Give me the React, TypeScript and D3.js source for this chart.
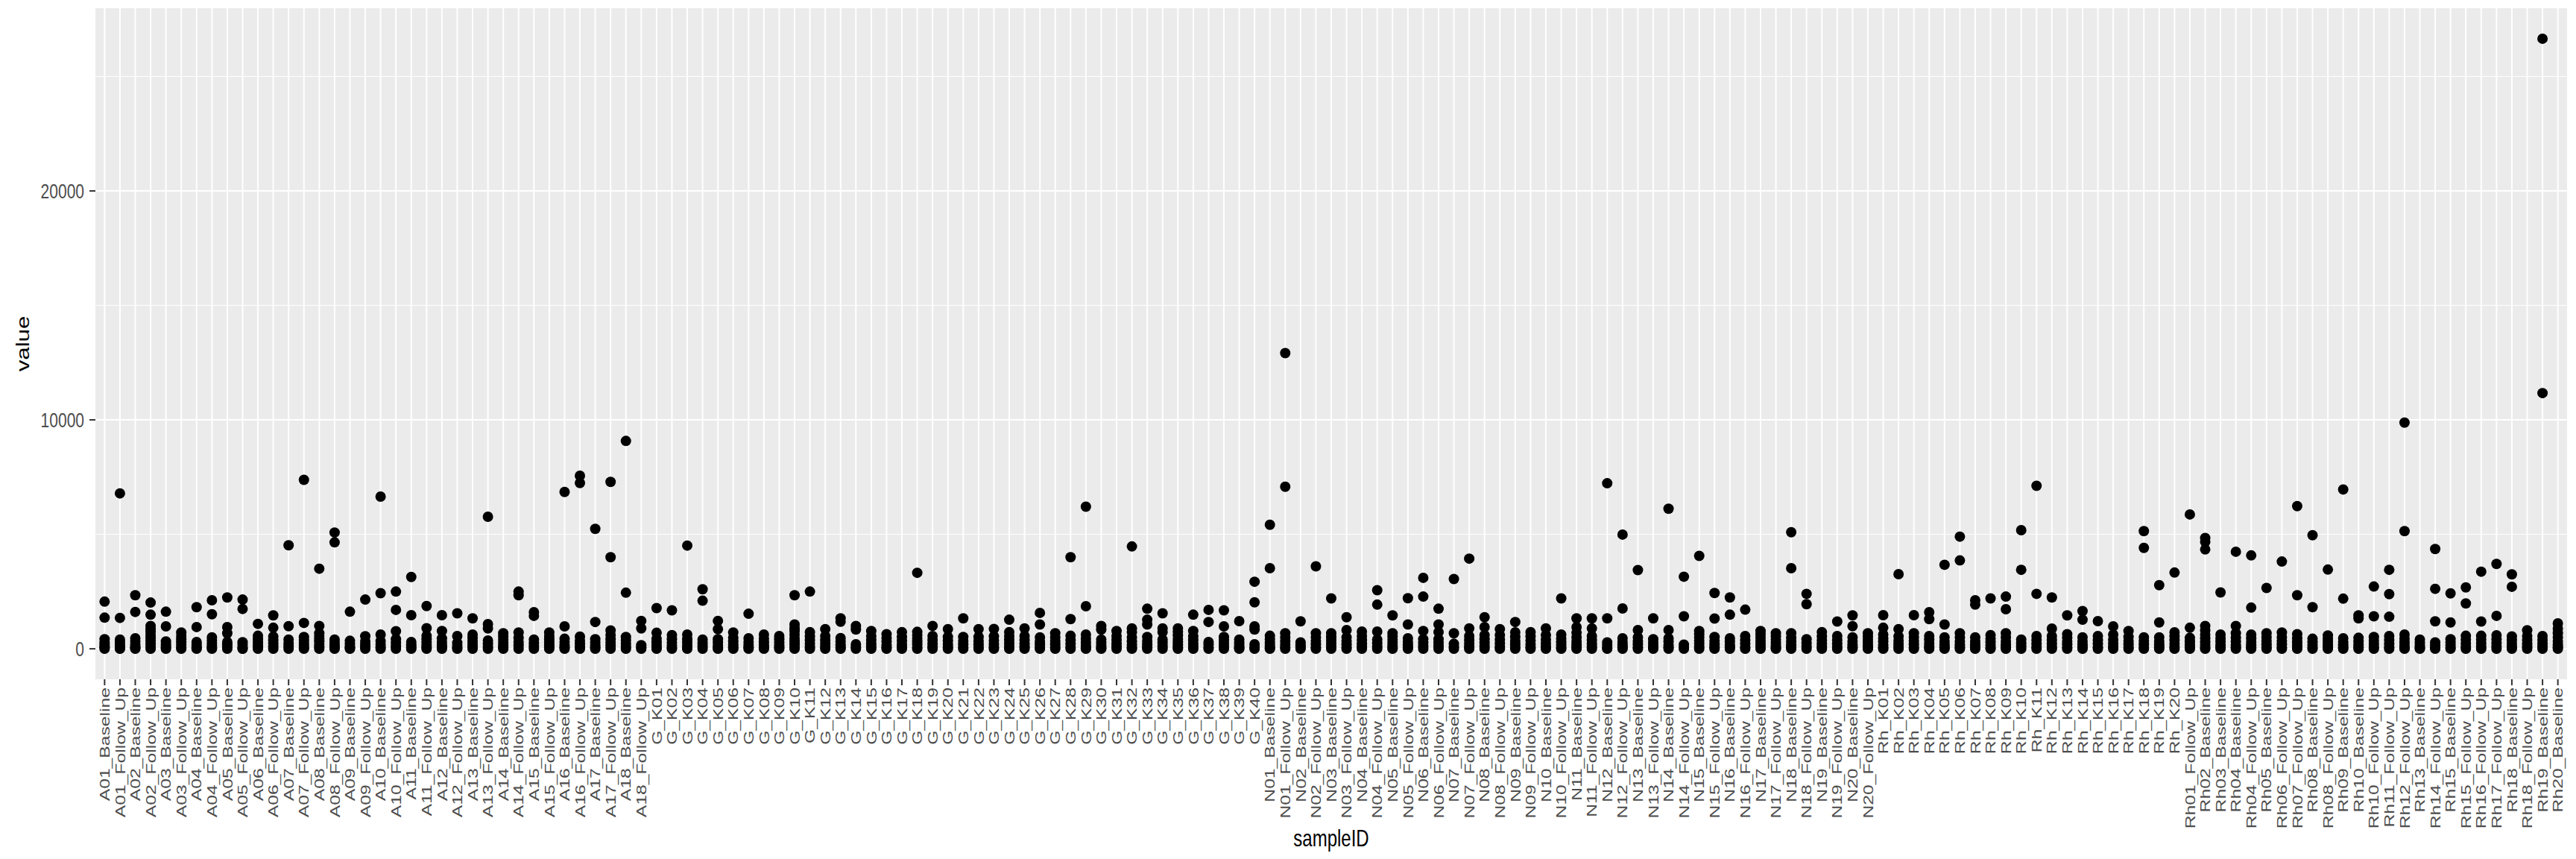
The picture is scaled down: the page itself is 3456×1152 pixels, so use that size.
import React from "react";
import * as d3 from "d3";

const aCategories = [
  "A01_Baseline","A01_Follow_Up","A02_Baseline","A02_Follow_Up","A03_Baseline","A03_Follow_Up",
  "A04_Baseline","A04_Follow_Up","A05_Baseline","A05_Follow_Up","A06_Baseline","A06_Follow_Up",
  "A07_Baseline","A07_Follow_Up","A08_Baseline","A08_Follow_Up","A09_Baseline","A09_Follow_Up",
  "A10_Baseline","A10_Follow_Up","A11_Baseline","A11_Follow_Up","A12_Baseline","A12_Follow_Up",
  "A13_Baseline","A13_Follow_Up","A14_Baseline","A14_Follow_Up","A15_Baseline","A15_Follow_Up",
  "A16_Baseline","A16_Follow_Up","A17_Baseline","A17_Follow_Up","A18_Baseline","A18_Follow_Up",
];
const aValues = [
  [2060,1360,420,300,190,110,50,0],
  [6790,1350,400,280,170,80,20,0],
  [2340,1610,460,330,200,100,30,0],
  [2020,1490,1000,870,740,600,480,350,220,100,0],
  [1620,980,320,210,120,40,0],
  [710,560,420,290,170,70,0],
  [1820,950,300,200,110,30,0],
  [2120,1510,500,370,240,120,40,0],
  [2240,950,680,300,190,90,0],
  [2150,1740,290,180,80,10,0],
  [1090,570,420,280,150,50,0],
  [1460,920,530,380,240,110,0],
  [4520,990,400,240,120,0],
  [7380,1130,520,380,250,130,40,0],
  [3500,1000,680,560,440,320,200,90,0],
  [5080,4650,400,270,150,50,0],
  [1620,350,220,110,30,0],
  [2150,550,330,200,90,0],
  [6650,2430,620,340,200,80,0],
  [2500,1700,770,420,260,120,0],
  [3140,1470,300,160,50,0],
  [1870,900,570,420,280,150,50,0],
  [1470,780,450,300,170,60,0],
  [1550,560,260,140,40,0],
  [1330,620,480,340,210,90,0],
  [5770,1080,890,360,220,100,0],
  [680,540,400,270,150,50,0],
  [2500,2340,710,480,300,150,0],
  [1600,1440,400,250,120,0],
  [710,560,420,290,160,60,0],
  [6850,980,440,300,170,60,0],
  [7560,7240,530,360,220,90,0],
  [5240,1170,420,280,150,50,0],
  [7290,4000,800,600,420,270,130,0],
  [9080,2450,520,370,230,100,0],
  [1220,890,160,60,0],
];

const gCategories = [
  "G_K01","G_K02","G_K03","G_K04","G_K05","G_K06","G_K07","G_K08","G_K09","G_K10",
  "G_K11","G_K12","G_K13","G_K14","G_K15","G_K16","G_K17","G_K18","G_K19","G_K20",
  "G_K21","G_K22","G_K23","G_K24","G_K25","G_K26","G_K27","G_K28","G_K29","G_K30",
  "G_K31","G_K32","G_K33","G_K34","G_K35","G_K36","G_K37","G_K38","G_K39","G_K40",
];
const gValues = [
  [1780,700,440,290,150,40,0],
  [1680,600,420,270,140,40,0],
  [4510,620,420,280,140,40,0],
  [2600,2100,400,250,120,0],
  [1220,860,420,280,140,30,0],
  [710,480,320,180,60,0],
  [1530,460,300,170,60,0],
  [620,440,290,150,50,0],
  [560,420,280,150,50,0],
  [2340,1060,900,780,620,460,320,190,70,0],
  [2500,730,540,380,230,100,0],
  [860,560,380,230,100,0],
  [1330,1180,470,310,160,50,0],
  [1000,840,200,80,0],
  [780,560,380,220,90,0],
  [640,470,310,170,60,0],
  [730,520,350,200,80,0],
  [3320,740,600,460,320,190,70,0],
  [1000,560,380,220,90,0],
  [860,520,350,200,80,0],
  [1330,520,340,190,70,0],
  [860,520,340,190,70,0],
  [870,540,360,210,80,0],
  [1270,730,560,390,240,100,0],
  [890,560,380,220,90,0],
  [1570,1060,500,330,190,70,0],
  [680,500,340,190,70,0],
  [4000,1300,570,380,220,80,0],
  [6210,1860,620,440,280,140,30,0],
  [1000,840,400,260,130,30,0],
  [780,560,380,220,90,0],
  [4470,890,730,500,320,170,50,0],
  [1750,1270,1060,520,340,190,60,0],
  [1550,890,730,400,260,120,0],
  [890,740,580,430,290,160,50,0],
  [1490,780,540,380,230,100,0],
  [1700,1170,300,180,70,0],
  [1680,980,520,380,240,110,0],
  [1210,400,260,130,30,0],
  [2930,2030,980,840,200,70,0],
];

const nCategories = [
  "N01_Baseline","N01_Follow_Up","N02_Baseline","N02_Follow_Up","N03_Baseline","N03_Follow_Up",
  "N04_Baseline","N04_Follow_Up","N05_Baseline","N05_Follow_Up","N06_Baseline","N06_Follow_Up",
  "N07_Baseline","N07_Follow_Up","N08_Baseline","N08_Follow_Up","N09_Baseline","N09_Follow_Up",
  "N10_Baseline","N10_Follow_Up","N11_Baseline","N11_Follow_Up","N12_Baseline","N12_Follow_Up",
  "N13_Baseline","N13_Follow_Up","N14_Baseline","N14_Follow_Up","N15_Baseline","N15_Follow_Up",
  "N16_Baseline","N16_Follow_Up","N17_Baseline","N17_Follow_Up","N18_Baseline","N18_Follow_Up",
  "N19_Baseline","N19_Follow_Up","N20_Baseline","N20_Follow_Up",
];
const nValues = [
  [5420,3520,570,410,260,130,30,0],
  [12920,7080,680,500,340,200,80,0],
  [1200,280,160,60,0],
  [3600,680,500,340,190,70,0],
  [2200,680,520,380,240,110,0],
  [1380,820,500,340,190,70,0],
  [750,560,380,220,90,0],
  [2560,1930,750,400,250,110,0],
  [1460,680,540,400,260,130,30,0],
  [2210,1060,460,300,160,50,0],
  [3100,2280,780,420,260,120,0],
  [1750,1060,730,420,260,120,0],
  [3050,680,220,90,0],
  [3940,890,560,380,230,90,0],
  [1380,950,600,420,260,120,0],
  [860,600,400,240,100,0],
  [1170,720,520,340,190,70,0],
  [730,540,360,200,80,0],
  [890,600,400,240,100,0],
  [2200,620,440,290,150,40,0],
  [1330,950,700,500,330,180,60,0],
  [1330,890,560,380,220,90,0],
  [7230,1330,280,150,40,0],
  [4990,1760,460,300,160,50,0],
  [3440,820,500,340,190,70,0],
  [1330,420,270,140,40,0],
  [6120,820,460,310,170,60,0],
  [3150,1420,180,70,0],
  [4060,780,640,500,360,230,100,0],
  [2440,1320,520,340,190,60,0],
  [2240,1490,460,310,170,60,0],
  [1710,560,380,220,80,0],
  [780,640,500,360,230,110,0],
  [680,540,400,260,130,30,0],
  [5090,3520,680,480,310,160,50,0],
  [2400,1950,420,250,110,0],
  [730,540,370,220,90,0],
  [1190,560,380,220,80,0],
  [1460,990,500,330,180,60,0],
  [680,540,400,260,130,30,0],
];

const rhkCategories = [
  "Rh_K01","Rh_K02","Rh_K03","Rh_K04","Rh_K05","Rh_K06","Rh_K07","Rh_K08","Rh_K09","Rh_K10",
  "Rh_K11","Rh_K12","Rh_K13","Rh_K14","Rh_K15","Rh_K16","Rh_K17","Rh_K18","Rh_K19","Rh_K20",
];
const rhkValues = [
  [1470,920,620,460,310,170,50,0],
  [3260,860,540,360,210,80,0],
  [1470,680,500,340,190,70,0],
  [1600,1300,560,390,230,90,0],
  [3670,1060,500,330,180,60,0],
  [4900,3860,680,500,330,180,60,0],
  [2120,1930,500,330,180,60,0],
  [2200,600,440,290,150,40,0],
  [2280,1730,680,500,330,180,60,0],
  [5180,3450,400,250,120,0],
  [7120,2400,560,380,220,80,0],
  [2240,880,560,380,220,80,0],
  [1460,640,480,330,190,70,0],
  [1650,1270,500,330,180,60,0],
  [1210,560,380,220,80,0],
  [980,620,400,240,100,0],
  [780,520,340,190,70,0],
  [5140,4410,500,340,190,70,0],
  [2780,1150,500,330,180,60,0],
  [3330,720,540,380,230,100,0],
];

const rhCategories = [
  "Rh01_Follow_Up","Rh02_Baseline","Rh03_Baseline","Rh04_Baseline","Rh04_Follow_Up",
  "Rh05_Baseline","Rh06_Follow_Up","Rh07_Follow_Up","Rh08_Baseline","Rh08_Follow_Up",
  "Rh09_Baseline","Rh10_Baseline","Rh10_Follow_Up","Rh11_Follow_Up","Rh12_Follow_Up",
  "Rh13_Baseline","Rh14_Follow_Up","Rh15_Baseline","Rh15_Follow_Up","Rh16_Follow_Up",
  "Rh17_Follow_Up","Rh18_Baseline","Rh18_Follow_Up","Rh19_Baseline","Rh20_Baseline",
];
const rhValues = [
  [5870,920,480,320,180,60,0],
  [4840,4670,4340,1000,800,620,450,290,150,40,0],
  [2460,620,460,310,170,60,0],
  [4240,1000,680,480,310,170,60,0],
  [4080,1800,620,450,300,160,50,0],
  [2660,680,500,340,190,70,0],
  [3810,710,500,340,190,70,0],
  [6230,2340,640,450,290,150,40,0],
  [4960,1820,440,290,150,40,0],
  [3460,580,440,310,180,60,0],
  [6960,2190,460,300,160,50,0],
  [1460,1330,480,320,180,60,0],
  [2720,1420,520,360,210,80,0],
  [3450,2390,1400,560,380,220,80,0],
  [9880,5140,620,440,280,140,30,0],
  [400,260,130,30,0],
  [4360,2620,1200,280,150,40,0],
  [2420,1150,420,280,150,40,0],
  [2680,1980,570,400,240,100,0],
  [3370,1190,570,400,240,100,0],
  [3710,1440,590,410,250,110,0],
  [3250,2710,540,380,230,90,0],
  [810,560,380,220,90,0],
  [26650,11170,560,380,220,90,0],
  [1110,880,680,500,330,180,60,0],
];

const yMajorTicks = [0, 10000, 20000];
const yMinorTicks = [5000, 15000, 25000];

const W = 3456;
const H = 1152;
const panel = { left: 128, right: 3444, top: 11, bottom: 911 };
const FONT = "'Liberation Sans', Arial, Helvetica, sans-serif";
const STRETCH = 1.3;

export default function App() {
  const categories = [...aCategories, ...gCategories, ...nCategories, ...rhkCategories, ...rhCategories];
  const values = [...aValues, ...gValues, ...nValues, ...rhkValues, ...rhValues];
  const points: { cat: string; v: number }[] = [];
  categories.forEach((c, i) => values[i].forEach((v) => points.push({ cat: c, v })));

  const x = d3.scalePoint<string>().domain(categories).range([panel.left, panel.right]).padding(0.6);
  const [mn, mx] = d3.extent(points, (p) => p.v) as [number, number];
  const pad = (mx - mn) * 0.05;
  const y = d3.scaleLinear().domain([mn - pad, mx + pad]).range([panel.bottom, panel.top]);

  const tickFs = 19;
  return (
    <svg width={W} height={H} style={{ position: "absolute", left: 0, top: 0, background: "#fff" }} fontFamily={FONT}>
      <rect x={panel.left} y={panel.top} width={panel.right - panel.left} height={panel.bottom - panel.top} fill="#EBEBEB" />
      {yMinorTicks.map((t) => (
        <line key={"mi" + t} x1={panel.left} x2={panel.right} y1={y(t)} y2={y(t)} stroke="#fff" strokeWidth={1} />
      ))}
      {yMajorTicks.map((t) => (
        <line key={"ma" + t} x1={panel.left} x2={panel.right} y1={y(t)} y2={y(t)} stroke="#fff" strokeWidth={2} />
      ))}
      {categories.map((c) => (
        <line key={"vg" + c} x1={x(c)} x2={x(c)} y1={panel.top} y2={panel.bottom} stroke="#fff" strokeWidth={2} />
      ))}
      {points.map((p, i) => (
        <circle key={i} cx={x(p.cat)} cy={y(p.v)} r={7} fill="#000" />
      ))}
      {yMajorTicks.map((t) => (
        <g key={"yt" + t}>
          <line x1={panel.left - 8} x2={panel.left} y1={y(t)} y2={y(t)} stroke="#333" strokeWidth={2} />
          <text
            transform={`translate(${panel.left - 15},${y(t)}) scale(1,${STRETCH})`}
            textAnchor="end"
            dy="0.35em"
            fontSize={21}
            fill="#4D4D4D"
          >
            {t}
          </text>
        </g>
      ))}
      {categories.map((c) => (
        <g key={"xt" + c}>
          <line x1={x(c)} x2={x(c)} y1={panel.bottom} y2={panel.bottom + 8} stroke="#333" strokeWidth={2} />
          <text
            transform={`translate(${x(c)},${panel.bottom + 11}) rotate(-90) scale(${STRETCH},1)`}
            textAnchor="end"
            dy="0.35em"
            fontSize={tickFs}
            fill="#4D4D4D"
          >
            {c}
          </text>
        </g>
      ))}
      <text
        transform={`translate(31,${(panel.top + panel.bottom) / 2}) rotate(-90) scale(${STRETCH},1)`}
        textAnchor="middle"
        dy="0.35em"
        fontSize={24}
        fill="#000"
      >
        value
      </text>
      <text
        transform={`translate(${(panel.left + panel.right) / 2},1124) scale(1,${STRETCH})`}
        textAnchor="middle"
        dy="0.35em"
        fontSize={24}
        fill="#000"
      >
        sampleID
      </text>
    </svg>
  );
}
